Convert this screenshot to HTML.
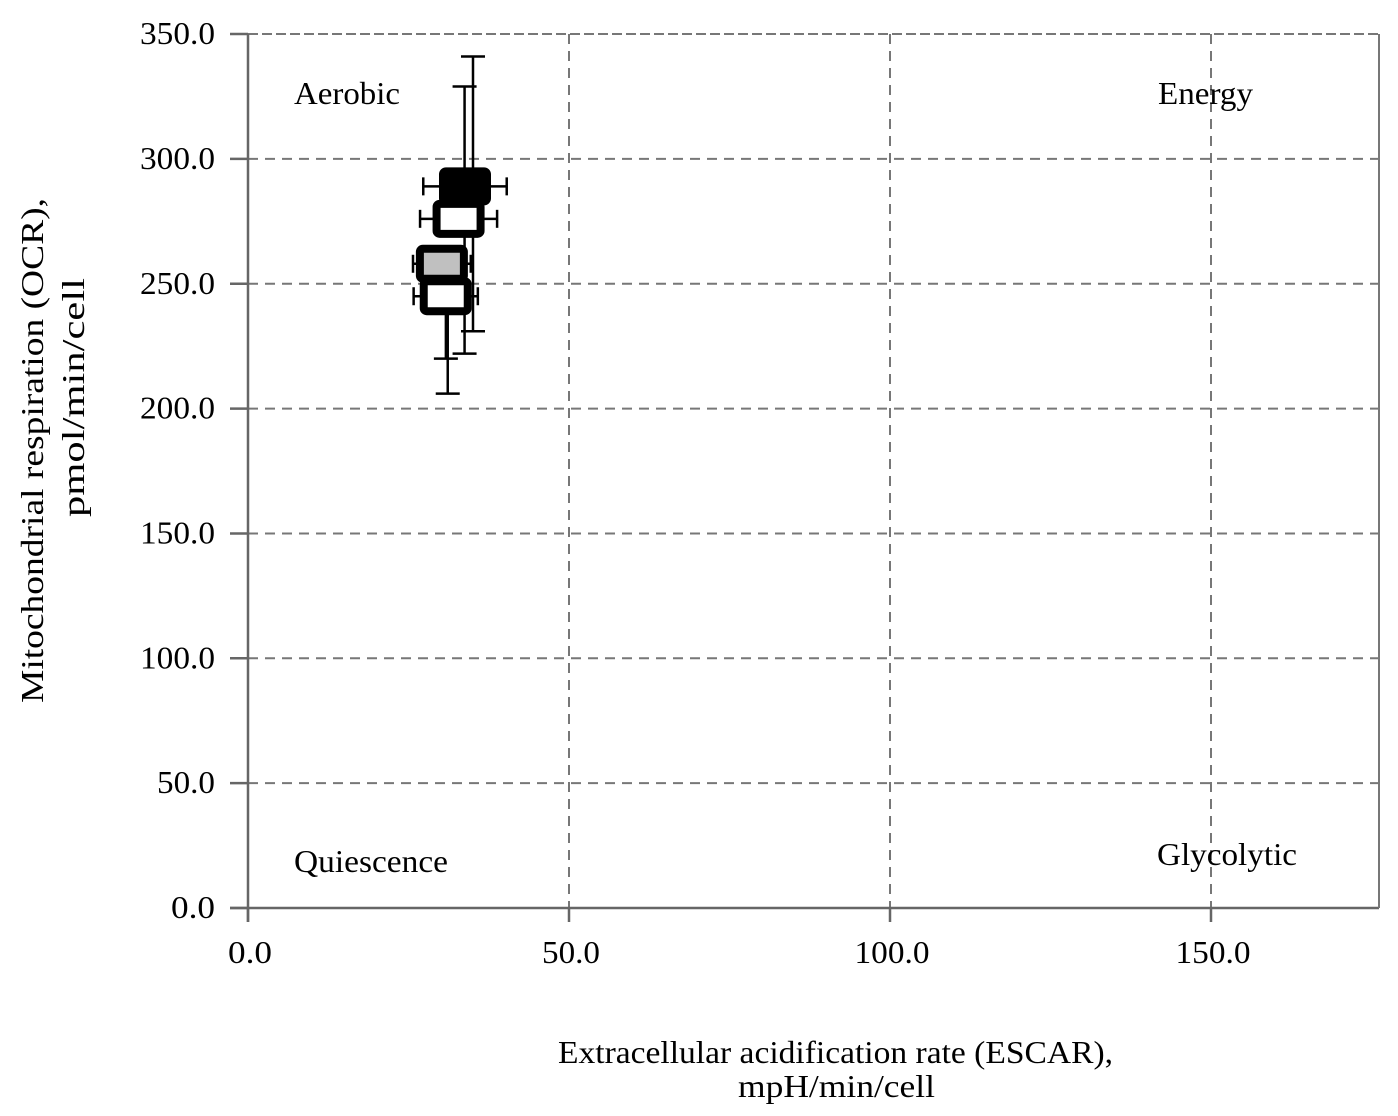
<!DOCTYPE html>
<html><head><meta charset="utf-8"><style>
html,body{margin:0;padding:0;background:#fff;}
svg{display:block;font-family:"Liberation Serif",serif;}
</style></head><body>
<svg id="chart" width="1398" height="1116" viewBox="0 0 1398 1116" xmlns="http://www.w3.org/2000/svg">
<g id="grid"></g>
<g id="axes"></g>
<g id="marks"></g>
<text x="294" y="104" font-size="32" textLength="106" lengthAdjust="spacingAndGlyphs">Aerobic</text>
<text x="1158" y="104" font-size="32" textLength="95" lengthAdjust="spacingAndGlyphs">Energy</text>
<text x="294" y="872" font-size="32" textLength="154" lengthAdjust="spacingAndGlyphs">Quiescence</text>
<text x="1157" y="865" font-size="32" textLength="140" lengthAdjust="spacingAndGlyphs">Glycolytic</text>
<text x="558" y="1063" font-size="32" textLength="555" lengthAdjust="spacingAndGlyphs">Extracellular acidification rate (ESCAR),</text>
<text x="738" y="1097" font-size="32" textLength="197" lengthAdjust="spacingAndGlyphs">mpH/min/cell</text>
<text transform="translate(43,703) rotate(-90)" font-size="32" textLength="505" lengthAdjust="spacingAndGlyphs">Mitochondrial respiration (OCR),</text>
<text transform="translate(84,517) rotate(-90)" font-size="32" textLength="239" lengthAdjust="spacingAndGlyphs">pmol/min/cell</text>
</svg>
<script>
const xTicks = [0, 50, 100, 150];
const yTicks = [0, 50, 100, 150, 200, 250, 300, 350];
const seriesNames = ["black", "white-top", "gray", "white-bottom"];
const xValues = [33.8, 32.8, 30.2, 30.8];
const yValues = [289, 276, 258, 245];
const xErr = [6.5, 6, 4.5, 5];
const yErrUp = [52, 53, 0, 0];
const yErrDown = [58, 54, 38, 39];
const fills = ["#000", "#fff", "#c0c0c0", "#fff"];

const X0 = 248, XPX = 6.42, Y0 = 908, YPX = 2.497, RIGHT = 1379, TOP = 34;
const xs = v => X0 + v * XPX;
const ys = v => Y0 - v * YPX;
const NS = "http://www.w3.org/2000/svg";
const labelW = s => s.length === 5 ? 75 : (s.length === 4 ? 58 : 44);
function mk(tag, attrs, parent) {
  const e = document.createElementNS(NS, tag);
  for (const k in attrs) e.setAttribute(k, attrs[k]);
  parent.appendChild(e);
  return e;
}
const grid = document.getElementById('grid');
const axes = document.getElementById('axes');
const marks = document.getElementById('marks');

yTicks.forEach(t => {
  if (t === 0) return;
  const l = mk('line', {x1: X0, x2: RIGHT, y1: ys(t), y2: ys(t), stroke: '#777', 'stroke-width': 2, 'stroke-dasharray': t === 350 ? '10 4' : '10 7'}, grid);
  
  
});
xTicks.forEach(t => {
  if (t === 0) return;
  const l = mk('line', {x1: xs(t), x2: xs(t), y1: TOP, y2: Y0, stroke: '#777', 'stroke-width': 2, 'stroke-dasharray': '10 7'}, grid);
  
  
});
let a = mk('line', {x1: X0, x2: X0, y1: TOP, y2: Y0 + 14, stroke: '#666', 'stroke-width': 2.5}, axes);


a = mk('line', {x1: X0 - 18, x2: RIGHT, y1: Y0, y2: Y0, stroke: '#666', 'stroke-width': 2.5}, axes);


a = mk('line', {x1: RIGHT, x2: RIGHT, y1: TOP, y2: Y0, stroke: '#777', 'stroke-width': 2}, axes);



yTicks.forEach(t => {
  const tk = mk('line', {x1: X0 - 18, x2: X0, y1: ys(t), y2: ys(t), stroke: '#666', 'stroke-width': 2.5}, axes);
  
  
  const s = t.toFixed(1);
  const w = labelW(s);
  const tx = mk('text', {x: 215 - w, y: ys(t) + 10, 'font-size': 32, textLength: w, lengthAdjust: 'spacingAndGlyphs'}, axes);
  tx.textContent = s;
  
  
});
xTicks.forEach(t => {
  const tk = mk('line', {x1: xs(t), x2: xs(t), y1: Y0, y2: Y0 + 14, stroke: '#666', 'stroke-width': 2.5}, axes);
  
  
  const s = t.toFixed(1);
  const w = labelW(s);
  const tx = mk('text', {x: xs(t) - w / 2 + 2, y: 963, 'font-size': 32, textLength: w, lengthAdjust: 'spacingAndGlyphs'}, axes);
  tx.textContent = s;
  
  
});

seriesNames.forEach((n, i) => {
  const cx = xs(xValues[i]), cy = ys(yValues[i]);
  const g = mk('g', {stroke: '#000', 'stroke-width': 2.5}, marks);
  
  
  const vx = cx + 8 - i * 2;
  const yt = ys(yValues[i] + yErrUp[i]), yb = ys(yValues[i] - yErrDown[i]);
  mk('line', {x1: vx, x2: vx, y1: yt, y2: yb}, g);
  if (yErrUp[i] > 0) mk('line', {x1: vx - 12, x2: vx + 12, y1: yt, y2: yt}, g);
  mk('line', {x1: vx - 12, x2: vx + 12, y1: yb, y2: yb}, g);
  const xl = xs(xValues[i] - xErr[i]), xr = xs(xValues[i] + xErr[i]);
  mk('line', {x1: xl, x2: xr, y1: cy, y2: cy}, g);
  mk('line', {x1: xl, x2: xl, y1: cy - 9, y2: cy + 9}, g);
  mk('line', {x1: xr, x2: xr, y1: cy - 9, y2: cy + 9}, g);
});
seriesNames.forEach((n, i) => {
  const cx = xs(xValues[i]), cy = ys(yValues[i]);
  const r = mk('rect', {x: cx - 22, y: cy - 15, width: 44, height: 30, rx: 3, fill: fills[i], stroke: '#000', 'stroke-width': 8}, marks);
  
  
});
</script>
</body></html>
